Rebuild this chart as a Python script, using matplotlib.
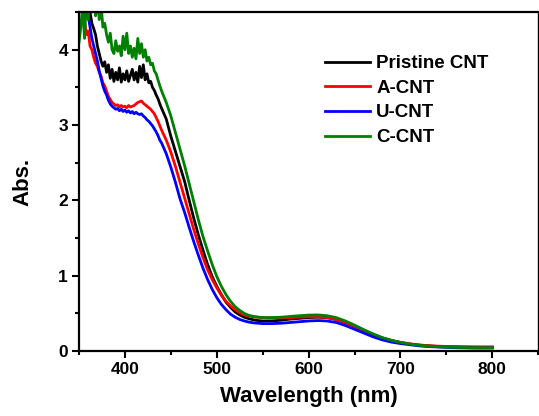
import numpy as np
import matplotlib
matplotlib.use('Agg')
import matplotlib.pyplot as plt
from matplotlib.ticker import MultipleLocator

plt.rcParams['font.family'] = ['Liberation Sans', 'DejaVu Sans']
plt.rcParams['font.weight'] = 'bold'

# wavelength grid (nm): fine in the noisy UV part, coarser later
wavelength = list(range(350, 440, 2)) + list(range(440, 560, 5)) + list(range(560, 801, 10))

pristine = [4.8, 5.0, 4.7, 4.9, 4.6, 4.65, 4.5, 4.35, 4.28, 4.2, 4.05, 3.95, 3.85, 3.78, 3.84,
            3.70, 3.80, 3.62, 3.74, 3.58, 3.70, 3.60, 3.76, 3.57, 3.68, 3.60, 3.72, 3.58, 3.66, 3.74,
            3.60, 3.70, 3.57, 3.78, 3.63, 3.80, 3.60, 3.68, 3.56, 3.58, 3.50, 3.46, 3.40, 3.35, 3.28,
            3.22, 3.08, 2.85, 2.65, 2.45, 2.25, 2.00, 1.76, 1.54, 1.34, 1.15, 0.99, 0.86, 0.75, 0.65,
            0.58, 0.52, 0.48, 0.45, 0.43, 0.415, 0.405, 0.40, 0.40,
            0.40, 0.41, 0.425, 0.435, 0.445, 0.45, 0.445, 0.42, 0.38, 0.33, 0.27, 0.22, 0.175, 0.14,
            0.115, 0.095, 0.08, 0.07, 0.062, 0.058, 0.055, 0.052, 0.05, 0.05, 0.05]

a_cnt = [4.9, 4.6, 4.7, 4.4, 4.2, 4.25, 4.05, 4.0, 3.9, 3.82, 3.78, 3.70, 3.65, 3.56, 3.52,
         3.45, 3.38, 3.34, 3.30, 3.28, 3.26, 3.27, 3.24, 3.26, 3.24, 3.25, 3.23, 3.26, 3.24, 3.25,
         3.26, 3.28, 3.30, 3.31, 3.32, 3.29, 3.27, 3.25, 3.23, 3.21, 3.18, 3.15, 3.10, 3.05, 2.99,
         2.93, 2.80, 2.64, 2.45, 2.24, 2.03, 1.82, 1.61, 1.42, 1.24, 1.08, 0.95, 0.84, 0.74, 0.66,
         0.60, 0.55, 0.51, 0.48, 0.465, 0.455, 0.45, 0.445, 0.44,
         0.44, 0.44, 0.445, 0.45, 0.455, 0.455, 0.445, 0.42, 0.38, 0.33, 0.27, 0.22, 0.175, 0.14,
         0.115, 0.095, 0.082, 0.072, 0.066, 0.062, 0.06, 0.058, 0.057, 0.056, 0.056]

u_cnt = [4.8, 4.7, 4.9, 4.6, 4.55, 4.45, 4.3, 4.15, 4.05, 3.95, 3.85, 3.72, 3.62, 3.52, 3.45,
         3.40, 3.33, 3.28, 3.25, 3.23, 3.21, 3.22, 3.19, 3.21, 3.18, 3.20, 3.17, 3.19, 3.16, 3.18,
         3.15, 3.17, 3.15, 3.14, 3.15, 3.12, 3.10, 3.07, 3.05, 3.02, 2.99, 2.95, 2.91, 2.86, 2.80,
         2.76, 2.62, 2.44, 2.24, 2.02, 1.84, 1.64, 1.45, 1.27, 1.10, 0.95, 0.82, 0.71, 0.62, 0.55,
         0.49, 0.45, 0.42, 0.40, 0.385, 0.375, 0.37, 0.365, 0.365,
         0.365, 0.37, 0.38, 0.39, 0.40, 0.405, 0.40, 0.38, 0.34, 0.29, 0.24, 0.19, 0.15, 0.12,
         0.10, 0.085, 0.07, 0.06, 0.055, 0.05, 0.045, 0.043, 0.04, 0.04, 0.04]

c_cnt = [4.1, 4.3, 4.6, 4.15, 4.7, 4.4, 4.8, 4.5, 4.9, 4.45, 4.7, 4.4, 4.6, 4.3, 4.35,
         4.2, 4.1, 4.22, 4.0, 3.95, 4.12, 3.98, 4.05, 3.92, 4.18, 4.0, 4.22, 3.95, 4.05, 3.90,
         4.02, 3.88, 4.15, 3.95, 4.08, 3.90, 4.0, 3.85, 3.90, 3.80, 3.82, 3.72, 3.68, 3.60, 3.52,
         3.45, 3.30, 3.12, 2.90, 2.68, 2.46, 2.22, 1.98, 1.74, 1.52, 1.33, 1.15, 0.99, 0.86, 0.75,
         0.66, 0.59, 0.54, 0.50, 0.475, 0.46, 0.45, 0.445, 0.445,
         0.445, 0.45, 0.46, 0.47, 0.478, 0.48, 0.47, 0.445, 0.40, 0.345, 0.285, 0.23, 0.18, 0.145,
         0.115, 0.093, 0.077, 0.066, 0.058, 0.053, 0.05, 0.048, 0.046, 0.045, 0.045]

labels = ['Pristine CNT', 'A-CNT', 'U-CNT', 'C-CNT']
colors = ['black', 'red', 'blue', 'green']

fig = plt.figure(figsize=(5.39, 4.16), dpi=100)
ax = fig.add_axes([0.1466, 0.156, 0.852, 0.815])

for y, lab, c in zip([pristine, a_cnt, u_cnt, c_cnt], labels, colors):
    ax.plot(wavelength, y, color=c, lw=2.0, label=lab)

ax.set_xlim(350, 850)
ax.set_ylim(0, 4.5)
ax.xaxis.set_minor_locator(MultipleLocator(50))
ax.yaxis.set_major_locator(MultipleLocator(1))
ax.yaxis.set_minor_locator(MultipleLocator(0.5))
ax.set_xticks([400, 500, 600, 700, 800])
ax.tick_params(which='major', direction='out', length=5, width=1.5, labelsize=12.5, pad=3)
ax.tick_params(which='minor', direction='out', length=3, width=1.5)

for s in ['left', 'bottom', 'top']:
    ax.spines[s].set_linewidth(1.6)
ax.spines['right'].set_linewidth(1.0)

ax.set_xlabel('Wavelength (nm)', fontsize=16, fontweight='bold', labelpad=6)
ax.set_ylabel('Abs.', fontsize=16, fontweight='bold', labelpad=18)

leg = ax.legend(loc='upper left', bbox_to_anchor=(0.536, 0.873), frameon=False,
                fontsize=13.5, handlelength=2.4, handletextpad=0.32, labelspacing=0.4,
                borderpad=0, borderaxespad=0)

fig.savefig('out.png', dpi=100)
